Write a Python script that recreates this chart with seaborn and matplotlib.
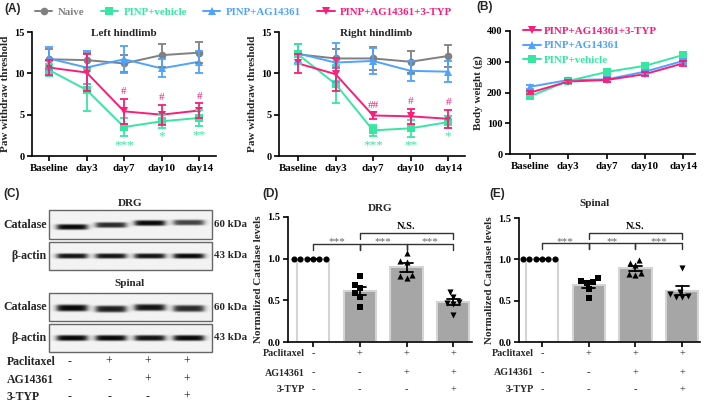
import numpy as np
import pandas as pd
import matplotlib
matplotlib.use("Agg")
import matplotlib.pyplot as plt
import matplotlib.transforms as mtransforms
from matplotlib.lines import Line2D
from matplotlib.patches import Rectangle
import seaborn as sns

# ---------------- data ----------------
days = ["Baseline", "day3", "day7", "day10", "day14"]
groups = ["Naive", "PINP+vehicle", "PINP+AG14361", "PINP+AG14361+3-TYP"]

left_mean = {
    "Naive": [11.7, 11.6, 11.2, 12.2, 12.5],
    "PINP+AG14361": [11.8, 10.7, 11.7, 10.6, 11.4],
    "PINP+vehicle": [10.4, 8.0, 3.5, 4.2, 4.6],
    "PINP+AG14361+3-TYP": [10.7, 10.1, 5.4, 5.0, 5.5],
}
left_sem = {
    "Naive": [1.2, 0.9, 1.0, 1.4, 1.3],
    "PINP+AG14361": [1.4, 2.0, 1.6, 1.1, 1.3],
    "PINP+vehicle": [0.7, 2.5, 1.1, 0.8, 1.0],
    "PINP+AG14361+3-TYP": [0.9, 2.2, 1.5, 1.2, 0.9],
}
right_mean = {
    "Naive": [12.3, 11.8, 11.8, 11.4, 12.1],
    "PINP+AG14361": [12.4, 11.3, 11.5, 10.3, 10.2],
    "PINP+vehicle": [12.3, 8.7, 3.1, 3.35, 4.1],
    "PINP+AG14361+3-TYP": [11.2, 9.9, 4.9, 4.8, 4.5],
}
right_sem = {
    "Naive": [1.2, 1.1, 1.4, 1.3, 1.3],
    "PINP+AG14361": [1.1, 2.4, 1.6, 1.2, 1.3],
    "PINP+vehicle": [1.2, 2.3, 0.7, 1.0, 0.7],
    "PINP+AG14361+3-TYP": [1.1, 2.0, 0.4, 0.9, 1.1],
}
left_hash = ["", "", "#", "#", "#"]
left_star = ["", "", "***", "*", "**"]
right_hash = ["", "", "##", "#", "#"]
right_star = ["", "", "***", "**", "*"]

bw_groups = ["PINP+AG14361+3-TYP", "PINP+AG14361", "PINP+vehicle"]
bw_mean = {
    "PINP+AG14361+3-TYP": [200, 236, 241, 260, 295],
    "PINP+AG14361": [219, 241, 243, 268, 303],
    "PINP+vehicle": [188, 238, 267, 287, 322],
}
bw_sem = {
    "PINP+AG14361+3-TYP": [6, 6, 6, 6, 7],
    "PINP+AG14361": [6, 6, 7, 6, 6],
    "PINP+vehicle": [5, 7, 6, 6, 6],
}

conds = ["c1", "c2", "c3", "c4"]
drg_vals = [
    [1.0, 1.0, 1.0, 1.0, 1.0, 1.0],
    [0.79, 0.69, 0.645, 0.59, 0.54, 0.42],
    [1.07, 0.976, 0.96, 0.79, 0.77, 0.80],
    [0.60, 0.54, 0.48, 0.47, 0.46, 0.32],
]
spinal_vals = [
    [1.0, 1.0, 1.0, 1.0, 1.0, 1.0],
    [0.77, 0.74, 0.73, 0.71, 0.64, 0.53],
    [0.99, 0.96, 0.93, 0.84, 0.82, 0.81],
    [0.89, 0.61, 0.58, 0.56, 0.55, 0.54],
]
drg_sig = [(0, 1, "***"), (1, 2, "***"), (2, 3, "***"), (1, 3, "N.S.")]
spinal_sig = [(0, 1, "***"), (1, 2, "**"), (2, 3, "***"), (1, 3, "N.S.")]

treat_rows = ["Paclitaxel", "AG14361", "3-TYP"]
treat_signs = [["-", "+", "+", "+"], ["-", "-", "+", "+"], ["-", "-", "-", "+"]]

# blot lane intensities
blot_drg_cat = [1.0, 0.85, 1.0, 0.75]
blot_drg_act = [0.95, 0.95, 0.95, 1.0]
blot_sp_cat = [1.0, 0.9, 0.95, 0.85]
blot_sp_act = [1.0, 1.0, 0.95, 1.0]

# ---------------- style ----------------
sns.set_style("ticks")
plt.rcParams["font.family"] = ["Liberation Serif", "DejaVu Serif"]
plt.rcParams["font.weight"] = "bold"
plt.rcParams["axes.labelweight"] = "bold"
plt.rcParams["axes.linewidth"] = 1.2
plt.rcParams["xtick.major.width"] = 1.2
plt.rcParams["ytick.major.width"] = 1.2
plt.rcParams["xtick.major.size"] = 3.5
plt.rcParams["ytick.major.size"] = 3.5
plt.rcParams["xtick.direction"] = "out"
plt.rcParams["ytick.direction"] = "out"
plt.rcParams["xtick.color"] = "black"
plt.rcParams["ytick.color"] = "black"
plt.rcParams["axes.edgecolor"] = "black"

colors = {
    "Naive": "#808080",
    "PINP+vehicle": "#38E6A2",
    "PINP+AG14361": "#4FA3FF",
    "PINP+AG14361+3-TYP": "#FA1E78",
}
markers = {"Naive": "o", "PINP+vehicle": "s", "PINP+AG14361": "^", "PINP+AG14361+3-TYP": "v"}

W, H = 709, 404
fig = plt.figure(figsize=(W / 100, H / 100), dpi=100)


def px_axes(x0, x1, ytop, ybot):
    return fig.add_axes([x0 / W, 1 - ybot / H, (x1 - x0) / W, (ybot - ytop) / H])


def line_panel(ax, means, sems, order, xlim, ylim, yticks):
    rows = []
    for g in order:
        for i, v in enumerate(means[g]):
            rows.append({"day": i, "value": v, "group": g})
    df = pd.DataFrame(rows)
    sns.lineplot(data=df, x="day", y="value", hue="group", style="group",
                 hue_order=order, style_order=order, palette=colors,
                 markers=markers, dashes=False, markersize=5.5, markeredgewidth=0,
                 linewidth=1.4, legend=False, errorbar=None, ax=ax)
    for g in order:
        ax.errorbar(np.arange(len(days)), means[g], yerr=sems[g], fmt="none",
                    ecolor=colors[g], elinewidth=1.3, capsize=3, capthick=1.3, zorder=3)
    ax.set_xlim(*xlim)
    ax.set_ylim(*ylim)
    ax.set_xticks(np.arange(len(days)))
    ax.set_xticklabels(days, fontsize=7.8, fontweight="bold")
    ax.set_yticks(yticks)
    ax.set_yticklabels([str(t) for t in yticks], fontsize=7.5, fontweight="bold")
    ax.set_xlabel("")
    sns.despine(ax=ax)
    ax.tick_params(axis="both", pad=2)


order_a = ["Naive", "PINP+AG14361", "PINP+vehicle", "PINP+AG14361+3-TYP"]


def annotate(ax, means, sems, hashes, stars):
    for i in range(len(days)):
        pm = means["PINP+AG14361+3-TYP"][i] + sems["PINP+AG14361+3-TYP"][i]
        gm = means["PINP+vehicle"][i] - sems["PINP+vehicle"][i]
        if hashes[i]:
            ax.text(i, pm + 0.3, hashes[i], ha="center", va="bottom", fontsize=8,
                    color=colors["PINP+AG14361+3-TYP"], fontweight="normal")
        if stars[i]:
            ax.text(i, gm - 0.35, stars[i], ha="center", va="top", fontsize=9.5,
                    color=colors["PINP+vehicle"], fontweight="normal")


# ---- Panel A left
axL = px_axes(32, 216, 32, 156)
line_panel(axL, left_mean, left_sem, order_a, (-0.453, 4.45), (0, 15), [0, 5, 10, 15])
axL.set_ylabel("Paw withdraw threshold", fontsize=8, labelpad=3)
axL.text(0.5, 0.985, "Left hindlimb", transform=axL.transAxes, ha="center", va="center", fontsize=8)
annotate(axL, left_mean, left_sem, left_hash, left_star)

# ---- Panel A right
axR = px_axes(279, 465, 32, 156)
line_panel(axR, right_mean, right_sem, order_a, (-0.507, 4.45), (0, 15), [0, 5, 10, 15])
axR.set_ylabel("Paw withdraw threshold", fontsize=8, labelpad=3)
axR.text(0.52, 0.985, "Right hindlimb", transform=axR.transAxes, ha="center", va="center", fontsize=8)
annotate(axR, right_mean, right_sem, right_hash, right_star)

# ---- figure legend for A
handles = [Line2D([], [], color=colors[g], marker=markers[g], markersize=5.5, markeredgewidth=0, lw=1.4)
           for g in groups]
leg = fig.legend(handles, groups, loc="center left", bbox_to_anchor=(35 / W, 1 - 12 / H),
                 ncol=4, frameon=False, fontsize=7.8, handlelength=1.6, handletextpad=0.5,
                 columnspacing=1.5, borderaxespad=0, borderpad=0)
for t, g in zip(leg.get_texts(), groups):
    t.set_color(colors[g])
    t.set_fontweight("bold")

# ---- Panel B
axB = px_axes(510, 695, 31, 154.3)
line_panel(axB, bw_mean, bw_sem, ["PINP+AG14361", "PINP+vehicle", "PINP+AG14361+3-TYP"],
           (-0.52, 4.31), (0, 400), [0, 100, 200, 300, 400])
axB.set_ylabel("Body weight (g)", fontsize=8, labelpad=3)
hb = [Line2D([], [], color=colors[g], marker=markers[g], markersize=5.5, markeredgewidth=0, lw=1.4)
      for g in bw_groups]
legB = axB.legend(hb, bw_groups, loc="upper left", bbox_to_anchor=(0.07, 1.04), frameon=False,
                  fontsize=7.9, handlelength=1.6, handletextpad=0.3, labelspacing=0.45,
                  borderaxespad=0, borderpad=0)
for t, g in zip(legB.get_texts(), bw_groups):
    t.set_color(colors[g])
    t.set_fontweight("bold")


# ---- bar panels
def bar_panel(ax, vals, sig, xlim, title, title_x, title_y, line_h, ns_h):
    rows = []
    for c, vs in zip(conds, vals):
        for v in vs:
            rows.append({"cond": c, "value": v})
    df = pd.DataFrame(rows)
    pal = {"c1": "white", "c2": "#A6A6A6", "c3": "#A6A6A6", "c4": "#A6A6A6"}
    sns.barplot(data=df, x="cond", y="value", hue="cond", order=conds, hue_order=conds,
                palette=pal, legend=False, errorbar="se", capsize=0.28, width=0.69,
                edgecolor="#D4D4D4", linewidth=1.5,
                err_kws={"color": "black", "linewidth": 1.3}, ax=ax)
    mk = ["o", "s", "^", "v"]
    for c, m in zip(conds, mk):
        sns.swarmplot(data=df[df["cond"] == c], x="cond", y="value", order=conds,
                      marker=m, color="black", size=4.4, ax=ax, zorder=4)
    ax.set_xlim(*xlim)
    ax.set_ylim(0, 1.5)
    ax.set_yticks([0, 0.5, 1.0, 1.5])
    ax.set_yticklabels(["0.0", "0.5", "1.0", "1.5"], fontsize=7.5, fontweight="bold")
    ax.set_xticks(range(4))
    ax.set_xticklabels([])
    ax.set_xlabel("")
    ax.set_ylabel("Normalized Catalase levels", fontsize=8, labelpad=3)
    sns.despine(ax=ax)
    ax.tick_params(axis="both", pad=2)
    ax.text(title_x, title_y, title, transform=ax.transAxes, ha="center", va="center", fontsize=8)
    for (i, j, s) in sig:
        h = ns_h if s == "N.S." else line_h
        d = 0.07
        ax.plot([i, i, j, j], [h - d, h, h, h - d], color="#333333", lw=1.0, clip_on=False)
        if s == "N.S.":
            ax.text((i + j) / 2, h + 0.02, s, ha="center", va="bottom", fontsize=7.5, color="black")
        else:
            ax.text((i + j) / 2, h - 0.035, s, ha="center", va="bottom", fontsize=8,
                    color="#666666", fontweight="normal")
    tr = mtransforms.blended_transform_factory(ax.transData, ax.transAxes)
    ys = [-0.096, -0.248, -0.384]
    for r, lab in enumerate(treat_rows):
        ax.text(-0.18, ys[r], lab, transform=tr, ha="right", va="center", fontsize=7.2)
        for k, s in enumerate(treat_signs[r]):
            ax.text(k, ys[r], s, transform=tr, ha="center", va="center", fontsize=7.5,
                    fontweight="normal")


axD = px_axes(288, 472, 217, 342)
bar_panel(axD, drg_vals, drg_sig, (-0.535, 3.4), "DRG", 0.5, 1.07, 1.18, 1.31)
axE = px_axes(519, 700, 218, 342)
bar_panel(axE, spinal_vals, spinal_sig, (-0.49, 3.38), "Spinal", 0.42, 1.12, 1.2, 1.32)

# ---- Panel C (western blot drawing)
axC = fig.add_axes([0, 0, 230 / W, (404 - 190) / H])
axC.set_xlim(0, 230)
axC.set_ylim(404, 190)
axC.axis("off")
lane_x0, lane_dx, half_w = 72, 39, 15


def blot(ints, y0, y1, dys, sig):
    x0, x1 = 49, 212
    xs = np.linspace(x0, x1, 400)
    ys = np.linspace(y0, y1, 80)
    X, Y = np.meshgrid(xs, ys)
    img = np.full_like(X, 0.95)
    for i, I in enumerate(ints):
        cx = lane_x0 + lane_dx * i
        cy = (y0 + y1) / 2 + dys[i]
        hx = 1 / (1 + np.exp(-(X - (cx - half_w)) / 1.8)) * 1 / (1 + np.exp((X - (cx + half_w)) / 1.8))
        hy = np.exp(-((Y - cy) / sig) ** 4)
        img -= 0.92 * I * hx * hy
    axC.imshow(np.clip(img, 0, 1), cmap="gray", vmin=0, vmax=1, extent=(x0, x1, y1, y0), aspect="auto",
               interpolation="bilinear", zorder=1)
    axC.add_patch(Rectangle((x0, y0), x1 - x0, y1 - y0, fill=False, ec="#666666", lw=1.0, zorder=2))


blot(blot_drg_cat, 210, 239, [2.5, 0.5, -1.5, -2.0], 2.8)
blot(blot_drg_act, 242, 270, [0, 0, 0, 0], 2.6)
blot(blot_sp_cat, 293, 321, [1, 2, 0.5, 1.5], 3.4)
blot(blot_sp_act, 324, 352, [0, 0, 0, 0], 2.9)

axC.text(130, 203, "DRG", ha="center", va="center", fontsize=8)
axC.text(130, 284, "Spinal", ha="center", va="center", fontsize=8)
for yc, lab, kd in [(224.5, "Catalase", "60 kDa"), (256, "β-actin", "43 kDa"),
                    (307, "Catalase", "60 kDa"), (338, "β-actin", "43 kDa")]:
    axC.text(47, yc, lab, ha="right", va="center", fontsize=8.6)
    axC.text(214, yc, kd, ha="left", va="center", fontsize=7.8, clip_on=False)
for r, (lab, yy) in enumerate(zip(treat_rows, [362, 380, 397])):
    axC.text(7, yy, lab, ha="left", va="center", fontsize=8.5)
    for k, s in enumerate(treat_signs[r]):
        axC.text(lane_x0 + lane_dx * k - 2, yy, s, ha="center", va="center", fontsize=8.5,
                 fontweight="normal")

# ---- panel letters
for lab, x, y in [("(A)", 4, 9), ("(B)", 476, 7), ("(C)", 3, 194), ("(D)", 262, 194), ("(E)", 489, 194)]:
    fig.text(x / W, 1 - y / H, lab, ha="left", va="center", fontsize=8.5,
             family=["Liberation Sans", "DejaVu Sans"], fontweight="bold")

fig.savefig("out.png", dpi=100)
